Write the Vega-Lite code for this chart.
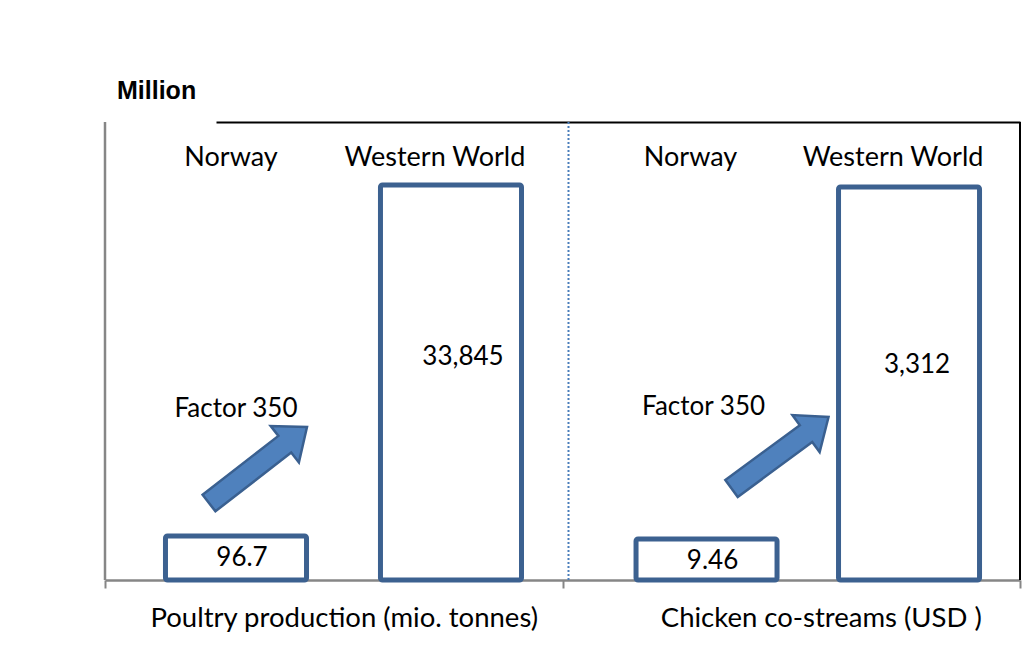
{
  "$schema": "https://vega.github.io/schema/vega-lite/v6.json",
  "width": 915,
  "height": 458,
  "autosize": {"type": "none"},
  "padding": {"left": 105, "top": 122, "right": 16, "bottom": 92},
  "background": "white",
  "config": {"view": {"stroke": null}},
  "title": {
    "text": "Million",
    "anchor": "start",
    "frame": "group",
    "font": "Liberation Sans",
    "fontSize": 25,
    "fontWeight": "bold",
    "color": "black",
    "dx": 12,
    "offset": -3,
    "baseline": "alphabetic"
  },
  "data": {
    "values": [
      {"group": "Poultry production (mio. tonnes)", "region": "Norway", "value": 96.7, "label": "96.7", "note": "Factor 350"},
      {"group": "Poultry production (mio. tonnes)", "region": "Western World", "value": 33845, "label": "33,845", "note": ""},
      {"group": "Chicken co-streams (USD )", "region": "Norway", "value": 9.46, "label": "9.46", "note": "Factor 350"},
      {"group": "Chicken co-streams (USD )", "region": "Western World", "value": 3312, "label": "3,312", "note": ""}
    ]
  },
  "resolve": {"scale": {"y": "independent", "xOffset": "independent"}, "axis": {"x": "independent", "y": "independent"}},
  "layer": [
    {
      "transform": [{"filter": "datum.group === 'Poultry production (mio. tonnes)' && datum.region === 'Norway'"}],
      "mark": {"type": "rule", "color": "#868686", "strokeWidth": 2.5},
      "encoding": {
        "x": {
          "field": "group", "type": "nominal", "bandPosition": 0, "axis": null,
          "scale": {"domain": ["Poultry production (mio. tonnes)", "Chicken co-streams (USD )"], "paddingInner": 0, "paddingOuter": 0}
        }
      }
    },
    {
      "transform": [{"filter": "datum.group === 'Chicken co-streams (USD )' && datum.region === 'Norway'"}],
      "mark": {"type": "rule", "color": "black", "strokeWidth": 2},
      "encoding": {
        "x": {
          "field": "group", "type": "nominal", "bandPosition": 1, "axis": null,
          "scale": {"domain": ["Poultry production (mio. tonnes)", "Chicken co-streams (USD )"], "paddingInner": 0, "paddingOuter": 0}
        }
      }
    },
    {
      "transform": [{"filter": "datum.group === 'Poultry production (mio. tonnes)'"}],
      "encoding": {
        "x": {
          "field": "group", "type": "nominal",
          "scale": {"domain": ["Poultry production (mio. tonnes)", "Chicken co-streams (USD )"], "paddingInner": 0, "paddingOuter": 0},
          "axis": {
            "orient": "bottom", "title": null, "domain": true, "domainColor": "#868686", "domainWidth": 2.5,
            "ticks": true, "tickColor": "#868686", "tickWidth": 2, "tickSize": 8, "tickBand": "extent",
            "labelFont": "Lato", "labelFontSize": 27.5, "labelColor": "black", "labelPadding": 16,
            "labelOffset": 10, "labelAngle": 0, "labelLimit": 600, "grid": false,
            "labelExpr": "datum.value === 'Poultry production (mio. tonnes)' ? datum.label : ''"
          }
        },
        "xOffset": {
          "field": "region", "type": "nominal",
          "scale": {"domain": ["Norway", "Western World"], "paddingInner": 0.344, "paddingOuter": 0.236, "align": 0.596}
        },
        "y": {
          "field": "value", "type": "quantitative", "stack": null, "axis": null,
          "scale": {"type": "log", "domain": [46.4, 96850], "nice": false, "zero": false}
        }
      },
      "layer": [
        {
          "mark": {"type": "bar", "fill": "white", "stroke": "#3c6190", "strokeWidth": 5, "cornerRadius": 2},
          "encoding": {"y2": {"datum": 46.4}}
        },
        {
          "transform": [{"filter": "datum.region === 'Norway'"}],
          "mark": {"type": "text", "font": "Lato", "fontSize": 26, "color": "black", "baseline": "middle", "dy": 22, "dx": 6},
          "encoding": {"text": {"field": "label"}}
        },
        {
          "transform": [{"filter": "datum.region === 'Western World'"}],
          "mark": {"type": "text", "font": "Lato", "fontSize": 26, "color": "black", "baseline": "middle", "dy": 172, "dx": 12},
          "encoding": {"text": {"field": "label"}}
        },
        {
          "transform": [{"filter": "datum.region === 'Norway'"}],
          "mark": {"type": "text", "font": "Lato", "fontSize": 26, "color": "black", "baseline": "middle", "dy": -127},
          "encoding": {"text": {"field": "note"}}
        },
        {
          "transform": [{"filter": "datum.region === 'Norway'"}],
          "mark": {
            "type": "point",
            "shape": "M-0.668,-0.826 L-0.412,-0.494 L1.104,-1.670 L1.258,-1.472 L1.42,-2.18 L0.694,-2.2 L0.848,-2.002 Z",
            "size": 10000, "filled": true, "fill": "#4f81bd", "stroke": "#3a6090", "strokeWidth": 2.5, "opacity": 1
          }
        },
        {
          "transform": [{"filter": "datum.region === 'Norway'"}],
          "mark": {"type": "text", "font": "Lato", "fontSize": 27, "color": "black", "baseline": "middle", "dx": -5},
          "encoding": {"text": {"field": "region"}, "y": {"datum": 53100, "type": "quantitative", "axis": null}}
        },
        {
          "transform": [{"filter": "datum.region === 'Western World'"}],
          "mark": {"type": "text", "font": "Lato", "fontSize": 27, "color": "black", "baseline": "middle", "dx": -16},
          "encoding": {"text": {"field": "region"}, "y": {"datum": 53100, "type": "quantitative", "axis": null}}
        }
      ]
    },
    {
      "transform": [{"filter": "datum.group === 'Chicken co-streams (USD )'"}],
      "encoding": {
        "x": {
          "field": "group", "type": "nominal",
          "scale": {"domain": ["Poultry production (mio. tonnes)", "Chicken co-streams (USD )"], "paddingInner": 0, "paddingOuter": 0},
          "axis": {
            "orient": "top", "title": null, "labels": false, "ticks": false, "grid": false, "domain": true,
            "domainColor": "black", "domainWidth": 2, "domainDash": [0, 111, 2000]
          }
        },
        "xOffset": {
          "field": "region", "type": "nominal",
          "scale": {"domain": ["Norway", "Western World"], "paddingInner": 0.3037, "paddingOuter": 0.2815, "align": 0.645}
        },
        "y": {
          "field": "value", "type": "quantitative", "stack": null, "axis": null,
          "scale": {"type": "log", "domain": [4.78, 9772], "nice": false, "zero": false}
        }
      },
      "layer": [
        {
          "mark": {"type": "bar", "fill": "white", "stroke": "#3c6190", "strokeWidth": 5, "cornerRadius": 2},
          "encoding": {"y2": {"datum": 4.78}}
        },
        {
          "transform": [{"filter": "datum.region === 'Norway'"}],
          "mark": {"type": "text", "font": "Lato", "fontSize": 26, "color": "black", "baseline": "middle", "dy": 22, "dx": 6},
          "encoding": {"text": {"field": "label"}}
        },
        {
          "transform": [{"filter": "datum.region === 'Western World'"}],
          "mark": {"type": "text", "font": "Lato", "fontSize": 26, "color": "black", "baseline": "middle", "dy": 178, "dx": 8},
          "encoding": {"text": {"field": "label"}}
        },
        {
          "transform": [{"filter": "datum.region === 'Norway'"}],
          "mark": {"type": "text", "font": "Lato", "fontSize": 26, "color": "black", "baseline": "middle", "dy": -132, "dx": -3},
          "encoding": {"text": {"field": "note"}}
        },
        {
          "transform": [{"filter": "datum.region === 'Norway'"}],
          "mark": {
            "type": "point",
            "shape": "M0.376,-1.179 L0.624,-0.841 L2.114,-1.938 L2.262,-1.738 L2.44,-2.44 L1.718,-2.478 L1.866,-2.276 Z",
            "size": 10000, "filled": true, "fill": "#4f81bd", "stroke": "#3a6090", "strokeWidth": 2.5, "opacity": 1
          }
        },
        {
          "mark": {"type": "text", "font": "Lato", "fontSize": 27, "color": "black", "baseline": "middle", "dx": -16},
          "encoding": {"text": {"field": "region"}, "y": {"datum": 5367, "type": "quantitative", "axis": null}}
        }
      ]
    },
    {
      "transform": [{"filter": "datum.group === 'Chicken co-streams (USD )' && datum.region === 'Norway'"}],
      "mark": {"type": "rule", "color": "#4a7ebb", "strokeWidth": 2, "strokeDash": [2, 2]},
      "encoding": {
        "x": {
          "field": "group", "type": "nominal", "bandPosition": 0,
          "scale": {"domain": ["Poultry production (mio. tonnes)", "Chicken co-streams (USD )"], "paddingInner": 0, "paddingOuter": 0},
          "axis": {
            "orient": "bottom", "title": null, "domain": false, "ticks": true, "tickOpacity": 0, "tickSize": 8,
            "labelFont": "Lato", "labelFontSize": 27.5, "labelColor": "black", "labelPadding": 16,
            "labelOffset": 30, "labelAngle": 0, "labelLimit": 600, "grid": false,
            "labelExpr": "datum.value === 'Chicken co-streams (USD )' ? datum.label : ''"
          }
        },
        "xOffset": {"value": 6}
      }
    }
  ]
}
